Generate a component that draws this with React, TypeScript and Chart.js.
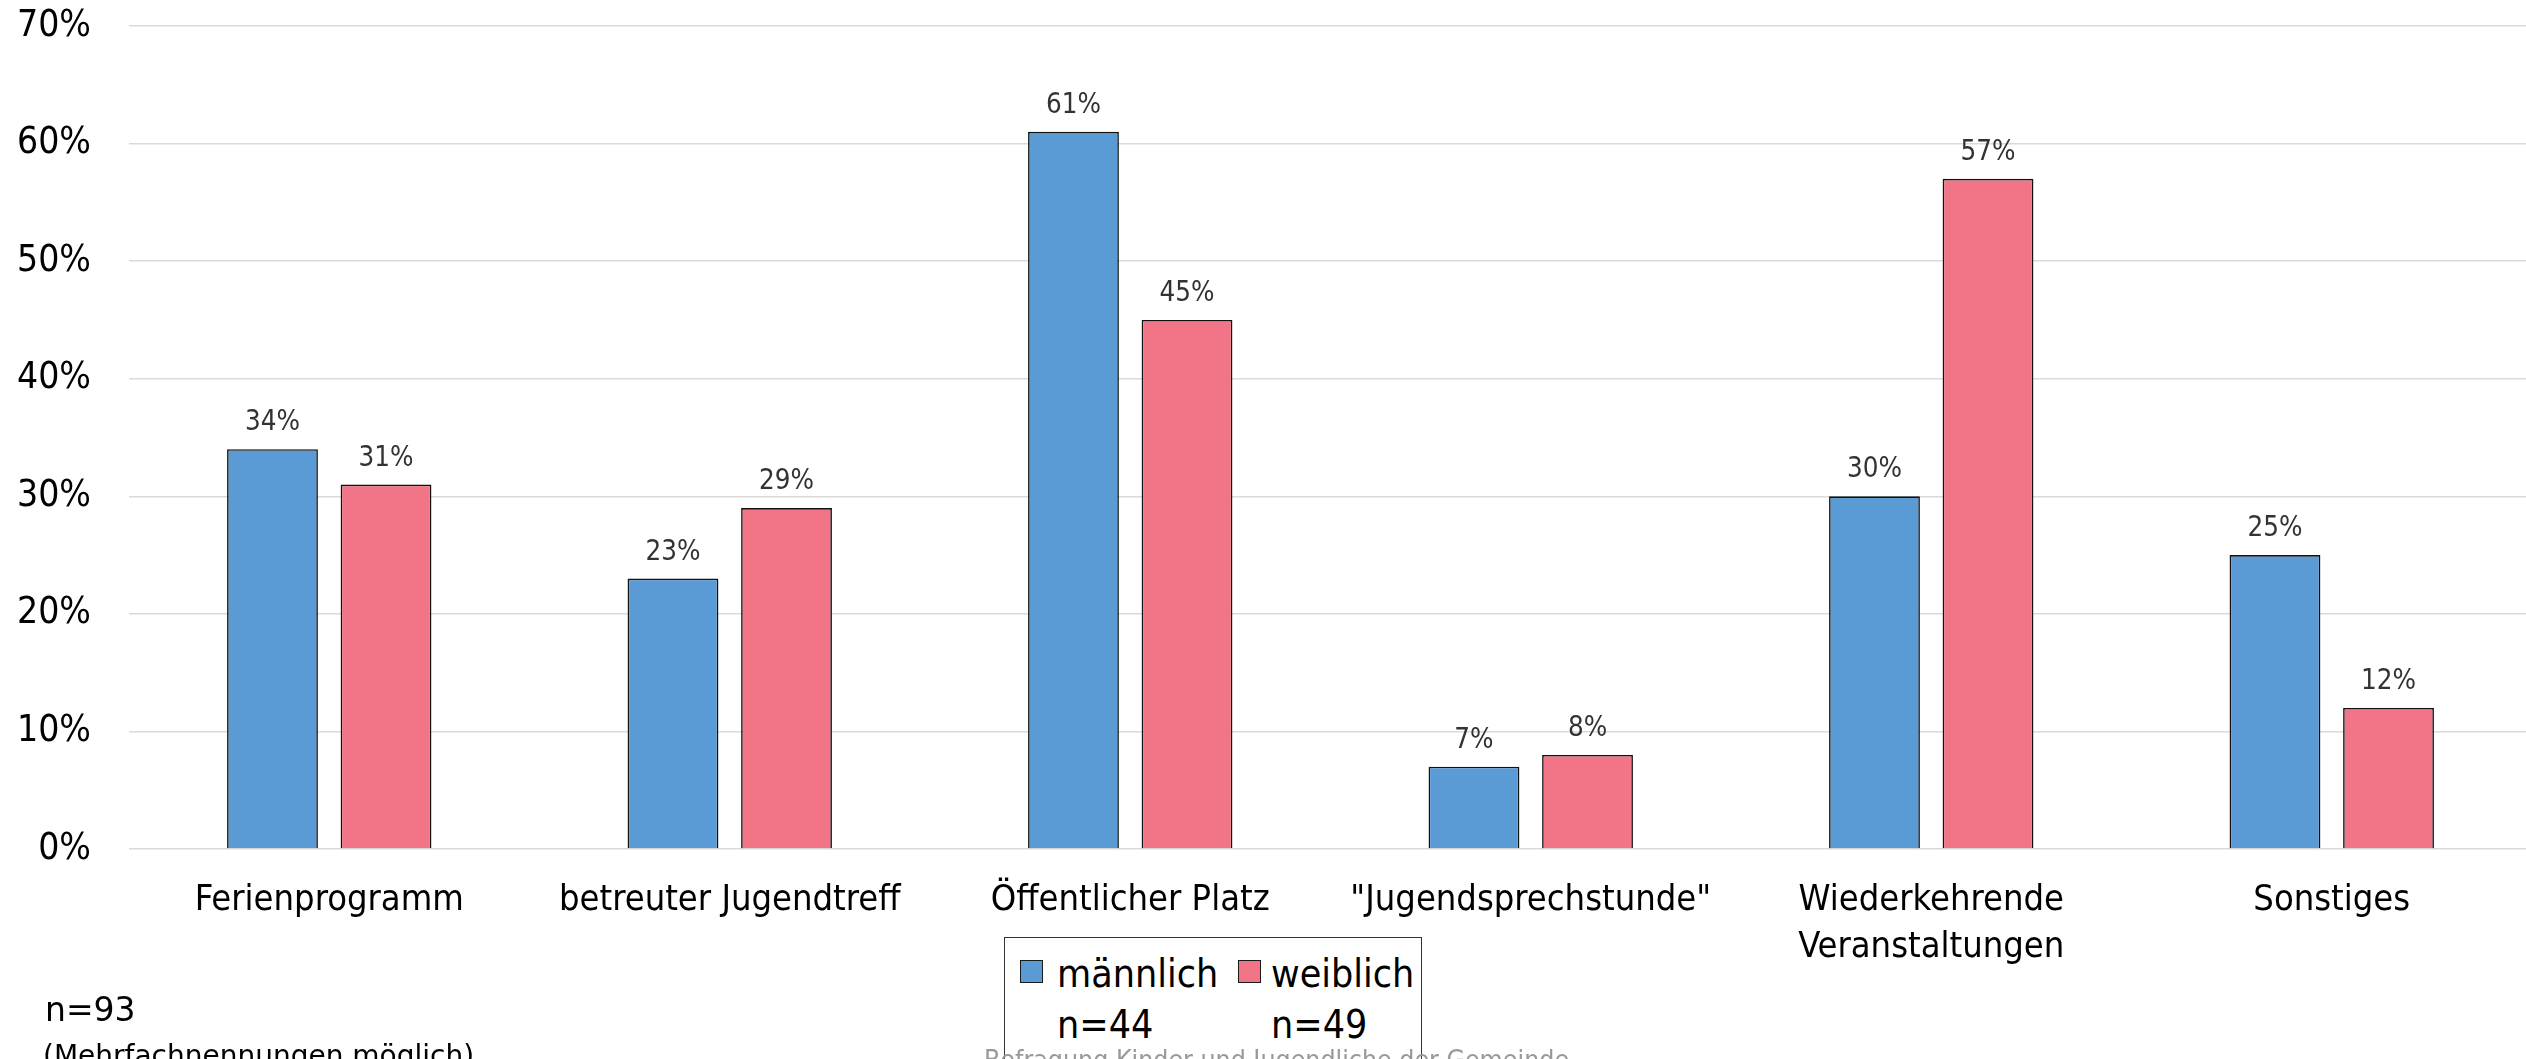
import React, { useEffect, useRef } from "react";
import { Chart, registerables } from "chart.js";

Chart.register(...registerables);

const categories: string[][] = [
  ["Ferienprogramm"],
  ["betreuter Jugendtreff"],
  ["Öffentlicher Platz"],
  ['"Jugendsprechstunde"'],
  ["Wiederkehrende", "Veranstaltungen"],
  ["Sonstiges"],
];
const maleValues = [34, 23, 61, 7, 30, 25];
const femaleValues = [31, 29, 45, 8, 57, 12];
const seriesNames = ["männlich", "weiblich"];
const seriesCounts = ["n=44", "n=49"];
const seriesColors = ["#5B9BD5", "#F27587"];
const yMin = 0;
const yMax = 70;
const yStep = 10;
const totalNote = "n=93";
const multiNote = "(Mehrfachnennungen möglich)";
const sourceNote = "Befragung Kinder und Jugendliche der Gemeinde";

const COND = '"DejaVu Sans Condensed", "DejaVu Sans", sans-serif';
const REG = '"DejaVu Sans", sans-serif';

const valueLabelPlugin = {
  id: "valueLabels",
  afterDatasetsDraw(chart: any) {
    const ctx = chart.ctx;
    ctx.save();
    ctx.font = `27.5px ${COND}`;
    ctx.fillStyle = "#333333";
    ctx.textAlign = "center";
    ctx.textBaseline = "alphabetic";
    chart.data.datasets.forEach((ds: any, di: number) => {
      const meta = chart.getDatasetMeta(di);
      meta.data.forEach((bar: any, i: number) => {
        ctx.fillText(`${ds.data[i]}%`, bar.x, bar.y - 19);
      });
    });
    ctx.restore();
  },
};

export default function App() {
  const canvasRef = useRef<HTMLCanvasElement | null>(null);

  useEffect(() => {
    document.body.style.margin = "0";
    const canvas = canvasRef.current;
    if (!canvas) return;
    const chart = new Chart(canvas, {
      type: "bar",
      data: {
        labels: categories,
        datasets: [
          {
            label: seriesNames[0],
            data: maleValues,
            backgroundColor: seriesColors[0],
            borderColor: "#111111",
            borderWidth: 1.6,
            categoryPercentage: 0.567,
            barPercentage: 0.8,
          },
          {
            label: seriesNames[1],
            data: femaleValues,
            backgroundColor: seriesColors[1],
            borderColor: "#111111",
            borderWidth: 1.6,
            categoryPercentage: 0.567,
            barPercentage: 0.8,
          },
        ],
      },
      options: {
        responsive: false,
        animation: false,
        layout: { padding: { top: 26, left: 0, right: 0, bottom: 0 } },
        plugins: {
          legend: { display: false },
          tooltip: { enabled: false },
          title: { display: false },
        },
        scales: {
          x: {
            grid: { display: false },
            border: { display: false },
            ticks: {
              color: "#000",
              font: { family: COND, size: 36, lineHeight: 1.3 },
              padding: 20,
              maxRotation: 0,
              autoSkip: false,
            },
            afterFit: (s: any) => {
              s.height = 210;
              s.paddingLeft = 0;
              s.paddingRight = 0;
            },
          },
          y: {
            min: yMin,
            max: yMax,
            ticks: {
              stepSize: yStep,
              color: "#000",
              font: { family: COND, size: 37 },
              padding: 38,
              callback: (v: any) => `${v}%`,
            },
            grid: { color: "#dadada", lineWidth: 1.5, drawTicks: false },
            border: { display: false },
            afterFit: (s: any) => {
              s.width = 129;
              s.paddingTop = 0;
              s.paddingBottom = 0;
            },
          },
        },
      },
      plugins: [valueLabelPlugin],
    });
    return () => chart.destroy();
  }, []);

  const abs = (o: React.CSSProperties): React.CSSProperties => ({
    position: "absolute",
    whiteSpace: "nowrap",
    margin: 0,
    ...o,
  });

  return (
    <div
      style={{
        position: "absolute",
        left: 0,
        top: 0,
        width: 2526,
        height: 1059,
        overflow: "hidden",
        background: "#fff",
      }}
    >
      <canvas
        ref={canvasRef}
        width={2532}
        height={1059}
        style={{ position: "absolute", left: 0, top: 0, width: 2532, height: 1059 }}
      />
      <div
        style={abs({
          left: 45,
          top: 993,
          fontFamily: REG,
          fontSize: 33,
          lineHeight: "33px",
          color: "#000",
        })}
      >
        {totalNote}
      </div>
      <div
        style={abs({
          left: 43,
          top: 1042,
          fontFamily: REG,
          fontSize: 28,
          lineHeight: "28px",
          color: "#000",
        })}
      >
        {multiNote}
      </div>
      <div
        style={abs({
          left: 1004,
          top: 937,
          width: 418,
          height: 160,
          border: "1.5px solid #333",
          background: "#fff",
          boxSizing: "border-box",
        })}
      />
      {[0, 1].map((i) => {
        const sqLeft = i === 0 ? 1020 : 1238;
        const txtLeft = i === 0 ? 1057 : 1271;
        return (
          <React.Fragment key={i}>
            <div
              style={abs({
                left: sqLeft,
                top: 960,
                width: 23,
                height: 23,
                background: seriesColors[i],
                border: "1.5px solid #1a1a1a",
                boxSizing: "border-box",
              })}
            />
            <div
              style={abs({
                left: txtLeft,
                top: 954,
                fontFamily: COND,
                fontSize: 39,
                lineHeight: "39px",
                color: "#000",
              })}
            >
              {seriesNames[i]}
            </div>
            <div
              style={abs({
                left: txtLeft,
                top: 1005,
                fontFamily: COND,
                fontSize: 39,
                lineHeight: "39px",
                color: "#000",
              })}
            >
              {seriesCounts[i]}
            </div>
          </React.Fragment>
        );
      })}
      <div
        style={abs({
          left: 984,
          top: 1047,
          fontFamily: COND,
          fontSize: 26.5,
          lineHeight: "26.5px",
          color: "#999",
        })}
      >
        {sourceNote}
      </div>
    </div>
  );
}
